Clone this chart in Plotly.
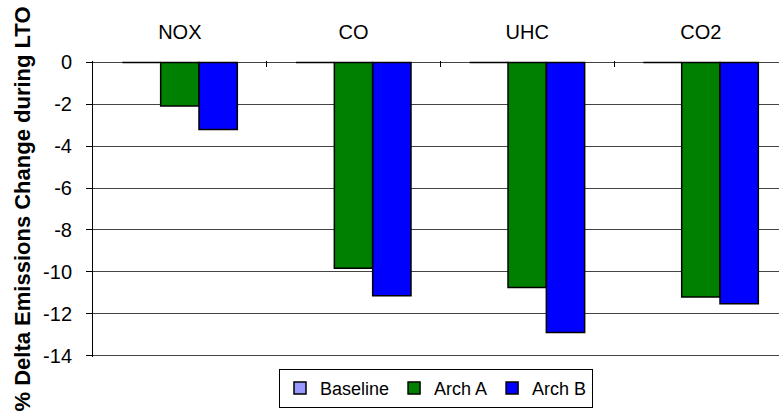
import plotly.graph_objects as go

categories = ["NOX", "CO", "UHC", "CO2"]
baseline = [0, 0, 0, 0]
arch_a = [-2.08, -9.83, -10.75, -11.2]
arch_b = [-3.2, -11.14, -12.9, -11.53]
y_ticks = [0, -2, -4, -6, -8, -10, -12, -14]

fig = go.Figure()
line = dict(color="black", width=1.5)
fig.add_trace(go.Bar(name="Baseline", x=categories, y=baseline,
                     marker=dict(color="#9999FF", line=line)))
fig.add_trace(go.Bar(name="Arch A", x=categories, y=arch_a,
                     marker=dict(color="#008000", line=line)))
fig.add_trace(go.Bar(name="Arch B", x=categories, y=arch_b,
                     marker=dict(color="#0000FF", line=line)))

font = "Arial, Liberation Sans, sans-serif"
fig.update_layout(
    width=779, height=414,
    margin=dict(l=93, r=0, t=61, b=57, autoexpand=False),
    paper_bgcolor="white", plot_bgcolor="white",
    barmode="group", bargap=0.338, bargroupgap=0,
    font=dict(family=font, size=18, color="black"),
    showlegend=True,
    legend=dict(orientation="h", x=0.5, xanchor="center", y=-0.04, yanchor="top",
                bordercolor="black", borderwidth=1, font=dict(size=18),
                itemwidth=30, tracegroupgap=0, traceorder="normal"),
    xaxis=dict(side="top", range=[-0.5, 3.45], showgrid=False, automargin=False,
               showline=False,
               ticks="inside", tickson="boundaries", ticklen=6, tickcolor="black",
               ticklabelstandoff=17, tickfont=dict(size=20)),
    yaxis=dict(range=[-14.07, 0.07], tickvals=y_ticks, ticktext=[str(v) for v in y_ticks],
               showgrid=True, gridcolor="#444", gridwidth=1, automargin=False,
               showline=True, linecolor="black", linewidth=1,
               ticks="outside", ticklen=6, tickcolor="black", zeroline=False,
               tickfont=dict(size=20), ticklabelstandoff=10,
               title=dict(text="<b>% Delta Emissions Change during LTO</b>",
                          font=dict(size=22), standoff=6)),
)

fig.write_html("out.html", config={"displayModeBar": False},
               post_script="document.body.style.margin='0';")
